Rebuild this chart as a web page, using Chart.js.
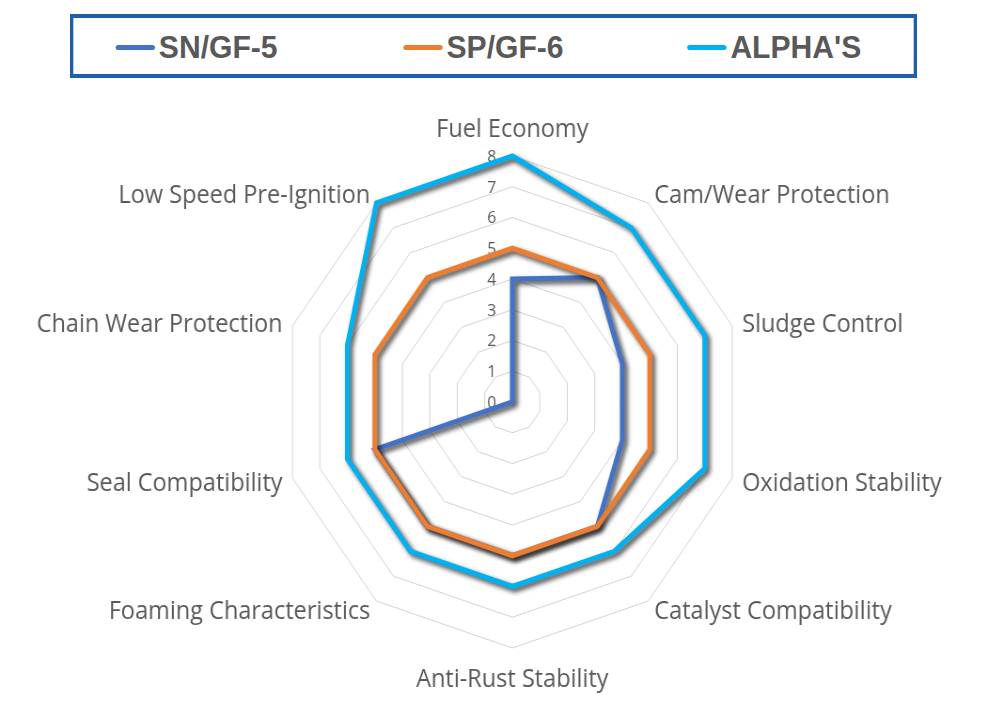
<!DOCTYPE html>
<html>
<head>
<meta charset="utf-8">
<script src="https://cdn.jsdelivr.net/npm/chart.js@4/dist/chart.umd.min.js"></script>
<style>
  html, body { margin: 0; padding: 0; background: #fff; }
  body { width: 1000px; height: 707px; overflow: hidden; position: relative; }
  #wrap {
    position: absolute; left: 0; top: 0; width: 1064px; height: 707px;
    transform: scaleX(0.94); transform-origin: 0 0;
  }
  #legend-box {
    position: absolute; left: 74px; top: 14px; width: 902px; height: 64px;
    box-sizing: border-box; border: 4px solid #1F5FAA; background: #fff;
  }
  .legend-item {
    position: absolute; top: 1px; height: 56px; display: flex; align-items: center;
    font-family: "Liberation Sans", Arial, sans-serif; font-weight: bold;
    font-size: 32px; color: #595959; white-space: nowrap;
  }
  .legend-line { width: 42px; height: 5px; border-radius: 3px; margin-right: 4px; }
  #chart { position: absolute; left: 0; top: 0; }
</style>
</head>
<body>
<div id="wrap">
  <canvas id="chart" width="1064" height="707"></canvas>
  <div id="legend-box"></div>
</div>
<script>
const categories = [
  "Fuel Economy",
  "Cam/Wear Protection",
  "Sludge Control",
  "Oxidation Stability",
  "Catalyst Compatibility",
  "Anti-Rust Stability",
  "Foaming Characteristics",
  "Seal Compatibility",
  "Chain Wear Protection",
  "Low Speed Pre-Ignition",
];
const seriesNames = ["SN/GF-5", "SP/GF-6", "ALPHA'S"];
const snGf5 = [4, 5, 4, 4, 5, 5, 5, 5, 0, 0];
const spGf6 = [5, 5, 5, 5, 5, 5, 5, 5, 5, 5];
const alphas = [8, 7, 7, 7, 6, 6, 6, 6, 6, 8];
const tickLabels = ["0", "1", "2", "3", "4", "5", "6", "7", "8"];

const seriesColors = ["#4472C4", "#ED7D31", "#00B0F0"];
const labelColor = "#595959";

// legend drawn as html inside the boxed frame
const legendBox = document.getElementById("legend-box");
const legendLefts = [45, 351, 653];
seriesNames.forEach(function (name, i) {
  const item = document.createElement("div");
  item.className = "legend-item";
  item.style.left = legendLefts[i] + "px";
  const line = document.createElement("span");
  line.className = "legend-line";
  line.style.background = seriesColors[i];
  const text = document.createElement("span");
  text.textContent = name;
  item.appendChild(line);
  item.appendChild(text);
  legendBox.appendChild(item);
});

const radarExtras = {
  id: "radarExtras",
  beforeDatasetsDraw(chart) {
    const ctx = chart.ctx;
    const r = chart.scales.r;

    // value ticks, left of the vertical axis
    ctx.save();
    ctx.font = "17px 'Open Sans'";
    ctx.fillStyle = labelColor;
    ctx.textAlign = "right";
    ctx.textBaseline = "middle";
    r.ticks.forEach(function (tick, i) {
      const d = r.getDistanceFromCenterForValue(tick.value);
      ctx.fillText(tickLabels[i], r.xCenter - 17, r.yCenter - d + 1);
    });

    // category labels
    ctx.font = "25px 'Open Sans'";
    categories.forEach(function (label, i) {
      const p = r.getPointPosition(i, r.drawingArea + 11);
      let y = p.y + 2;
      if (p.x > r.xCenter + 2) {
        ctx.textAlign = "left";
      } else if (p.x < r.xCenter - 2) {
        ctx.textAlign = "right";
      } else {
        ctx.textAlign = "center";
        y += p.y < r.yCenter ? -17 : 19;
      }
      ctx.fillText(label, p.x, y);
    });
    ctx.restore();

    // stippled-looking shadow under the series lines
    ctx.save();
    ctx.shadowColor = "rgba(0, 0, 0, 0.75)";
    ctx.shadowBlur = 5;
    ctx.shadowOffsetX = 3;
    ctx.shadowOffsetY = 3;
  },
  afterDatasetsDraw(chart) {
    chart.ctx.restore();
  },
};

const seriesValues = [snGf5, spGf6, alphas];

new Chart(document.getElementById("chart"), {
  type: "radar",
  data: {
    labels: categories,
    datasets: seriesValues.map(function (values, i) {
      return {
        label: seriesNames[i],
        data: values,
        borderColor: seriesColors[i],
        backgroundColor: seriesColors[i],
        borderWidth: 5,
        borderJoinStyle: "miter",
        fill: false,
        tension: 0,
        pointRadius: 0,
        pointHoverRadius: 0,
        clip: false,
        order: 3 - i,
      };
    }),
  },
  options: {
    responsive: false,
    animation: false,
    layout: {
      padding: { left: 299, right: 273, top: 156, bottom: 59 },
    },
    plugins: {
      legend: { display: false },
      tooltip: { enabled: false },
    },
    scales: {
      r: {
        min: 0,
        max: 8,
        beginAtZero: true,
        ticks: { display: false, stepSize: 1 },
        grid: { color: "#D2D2D2", lineWidth: 1 },
        angleLines: { display: false },
        pointLabels: { display: false },
      },
    },
  },
  plugins: [radarExtras],
});
</script>
</body>
</html>
